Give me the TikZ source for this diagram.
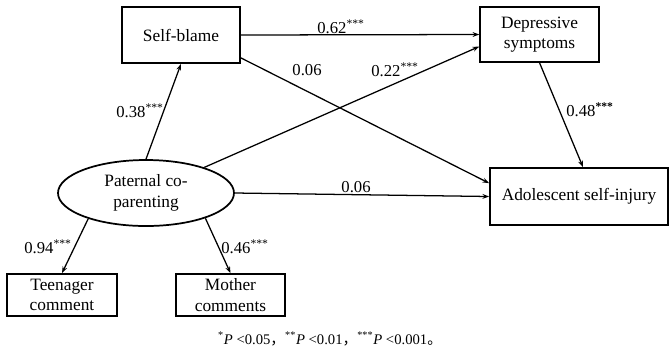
\documentclass[tikz,border=0pt]{standalone}
\usepackage{fontspec}
\setmainfont{Liberation Serif}
\newfontfamily\cjk{Noto Sans CJK SC}
\usetikzlibrary{arrows.meta,positioning,shapes.geometric}

\newcommand{\sigstar}{\textsuperscript{***}}

\begin{document}
\begin{tikzpicture}[
    x=0.75pt, y=-0.75pt,
    var/.style={draw, line width=1.3pt, inner sep=1pt, align=center, font=\fontsize{13}{15.5}\selectfont},
    latent/.style={draw, ellipse, line width=1.3pt, inner sep=0pt, minimum width=132pt, minimum height=49.5pt, align=center, font=\fontsize{13}{15.5}\selectfont},
    coef/.style={inner sep=1pt, font=\fontsize{12.5}{14}\selectfont},
    link/.style={-{Stealth[length=5pt,width=3.6pt]}, line width=0.95pt},
    >=Stealth
  ]
  \useasboundingbox (0,0) rectangle (670,355);

  % Observed and latent variables
  \node[var, minimum width=88.5pt, minimum height=42pt] (blame) at (181,35) {Self-blame};
  \node[var, minimum width=89pt, minimum height=41pt] (dep) at (539.5,34.5) {Depressive\\symptoms};
  \node[var, minimum width=133.5pt, minimum height=42.75pt] (inj) at (579,196.5) {Adolescent self-injury};
  \node[latent] (pc) at (146,193) {Paternal co-\\parenting};
  \node[var, minimum width=82.5pt, minimum height=31.5pt] (teen) at (62,295) {Teenager\\comment};
  \node[var, minimum width=82pt, minimum height=31.5pt] (moth) at (230.5,295) {Mother\\comments};

  % Paths
  \draw[link] (pc.north) -- (blame.south);
  \draw[link] (pc) -- ([yshift=-9pt]dep.west);
  \draw[link] (blame.east) -- (dep.west);
  \draw[link] ([yshift=4.5pt]blame.south east) -- ([yshift=10pt]inj.west);
  \draw[link] (pc.east) -- (inj.west);
  \draw[link] (dep.south) -- ([xshift=3pt]inj.north);
  \draw[link] (pc.204) -- (teen.north);
  \draw[link] (pc.337) -- (moth.north);

  % Coefficients
  \node[coef] (c62) at (341,27) {0.62\sigstar};
  \node[coef] (c06a) at (307,70) {0.06};
  \node[coef] (c22) at (395,70) {0.22\sigstar};
  \node[coef] (c38) at (140,111) {0.38\sigstar};
  \node[coef] (c48) at (590,110) {0.48\textsuperscript{\textbf{***}}};
  \node[coef] (c06b) at (356,187) {0.06};
  \node[coef] (c94) at (48,247) {0.94\sigstar};
  \node[coef] (c46) at (245,247) {0.46\sigstar};

  % Note
  \node[coef, font=\fontsize{11}{13}\selectfont] (note) at (330,339) {\textsuperscript{*}\textit{P} <0.05{\cjk ，}\textsuperscript{**}\textit{P} <0.01{\cjk ，}\textsuperscript{***}\textit{P} <0.001{\cjk 。}};
\end{tikzpicture}
\end{document}
